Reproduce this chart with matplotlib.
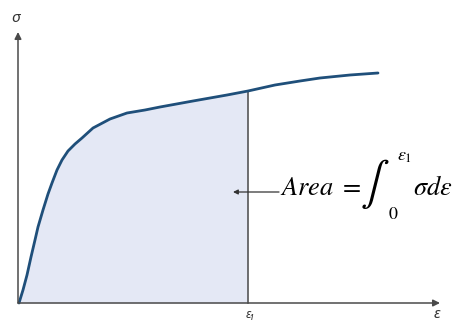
import matplotlib.pyplot as plt
import numpy as np

plt.rcParams['mathtext.fontset'] = 'stix'

# stress-strain curve (arbitrary units)
strain = [0, 0.04, 0.08, 0.12, 0.16, 0.19, 0.24, 0.29, 0.33, 0.38, 0.43,
          0.49, 0.56, 0.63, 0.74, 0.91, 1.08, 1.26, 1.41, 1.74, 2.08,
          2.29, 2.56, 2.81, 3.01, 3.31, 3.59]
stress = [0, 0.13, 0.28, 0.46, 0.63, 0.76, 0.93, 1.09, 1.20, 1.33, 1.43,
          1.52, 1.59, 1.65, 1.75, 1.84, 1.90, 1.93, 1.96, 2.02, 2.08,
          2.12, 2.18, 2.22, 2.25, 2.28, 2.30]
eps1 = 2.29

strain = np.array(strain)
stress = np.array(stress)

fig = plt.figure(figsize=(4.58, 3.27), dpi=100)
ax = fig.add_axes([0, 0, 1, 1])
ax.set_xlim(-0.19, 4.39)
ax.set_ylim(-0.24, 3.03)
ax.axis('off')

# shaded area under the curve up to eps1
mask = strain <= eps1
ax.fill_between(strain[mask], stress[mask], 0, color='#e4e8f5', lw=0)
ax.plot([eps1, eps1], [0, stress[strain == eps1][0]], color='#4a4a4a', lw=1.1)

ax.plot(strain, stress, color='#1f4f7a', lw=2.0,
        solid_capstyle='round', solid_joinstyle='round')

# axes with arrow heads
axis_col = '#4a4a4a'
ax.annotate('', xy=(4.21, 0), xytext=(-0.01, 0),
            arrowprops=dict(arrowstyle='-|>', color=axis_col, lw=1.1,
                            mutation_scale=10, shrinkA=0, shrinkB=0))
ax.annotate('', xy=(-0.01, 2.71), xytext=(-0.01, 0),
            arrowprops=dict(arrowstyle='-|>', color=axis_col, lw=1.1,
                            mutation_scale=10, shrinkA=0, shrinkB=0))

lab_font = ['Noto Sans', 'DejaVu Sans']
ax.text(-0.03, 2.84, 'σ', fontsize=11, color='#333333', style='italic',
        family=lab_font, ha='center', va='center')
ax.text(4.18, -0.12, 'ε', fontsize=11, color='#333333', style='italic',
        family=lab_font, ha='center', va='center')
ax.text(2.31, -0.11, 'ε₁', fontsize=9, color='#333333', style='italic',
        family=lab_font, ha='center', va='center')

# area label
ax.annotate('', xy=(2.14, 1.11), xytext=(2.60, 1.11),
            arrowprops=dict(arrowstyle='-|>', color='#333333', lw=0.9,
                            mutation_scale=7, shrinkA=0, shrinkB=0))
ax.text(2.61, 1.08, r'$Area\ =$', fontsize=19, ha='left', va='baseline')
ax.text(3.56, 1.19, r'$\int$', fontsize=31, ha='center', va='center')
ax.text(3.86, 1.47, r'$\varepsilon_1$', fontsize=13, ha='center', va='center')
ax.text(3.74, 0.89, r'$0$', fontsize=13, ha='center', va='center')
ax.text(3.94, 1.08, r'$\sigma d\varepsilon$', fontsize=19, ha='left',
        va='baseline')

fig.savefig('out.png', dpi=100)
